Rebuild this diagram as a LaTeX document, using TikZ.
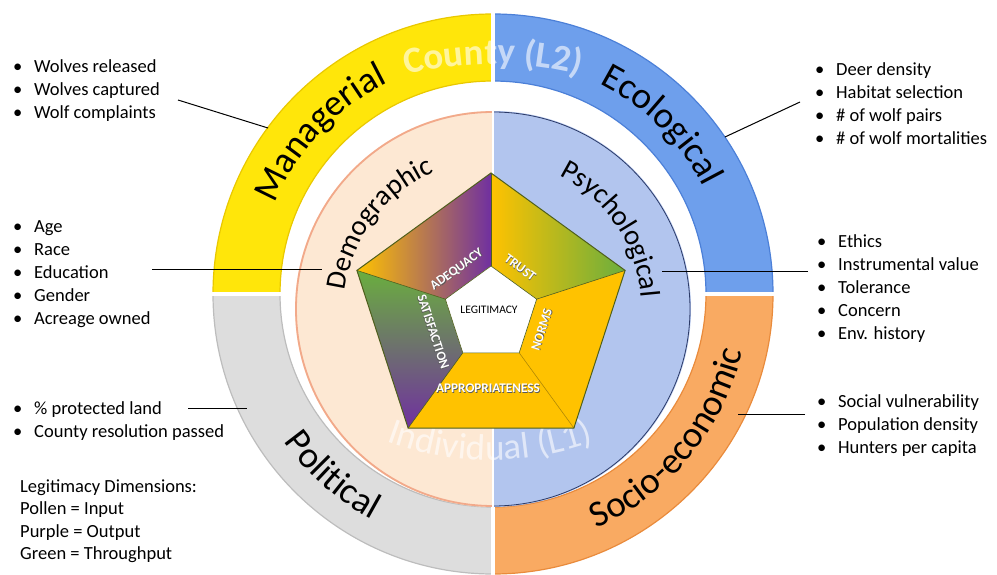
\documentclass[tikz,border=0pt]{standalone}
\usepackage{fontspec}
\setmainfont{Carlito}
\usetikzlibrary{calc,decorations.text,positioning}
\definecolor{mgyellow}{HTML}{FFE60A}
\definecolor{mgedge}{HTML}{E9C800}
\definecolor{ecoblue}{HTML}{6E9FEC}
\definecolor{ecoedge}{HTML}{4C80D8}
\definecolor{socorange}{HTML}{F9AA62}
\definecolor{socedge}{HTML}{E98B3C}
\definecolor{polgray}{HTML}{DDDDDD}
\definecolor{poledge}{HTML}{BDBDBD}
\definecolor{demopeach}{HTML}{FDE8D3}
\definecolor{demoedge}{HTML}{F2A98A}
\definecolor{psyblue}{HTML}{B2C5EE}
\definecolor{psyedge}{HTML}{2B3A67}
\definecolor{pgold}{HTML}{FFC200}
\definecolor{ppurple}{HTML}{7030A0}
\definecolor{pgreen}{HTML}{6AAE3E}
\definecolor{pentedge}{HTML}{4F5F1C}
\newcommand{\ringfont}{\fontsize{37}{37}\selectfont}
\newcommand{\discfont}{\fontsize{28.5}{28.5}\selectfont}
\newcommand{\levelfont}{\fontsize{37}{37}\selectfont}
\newcommand{\shlabel}[1]{\makebox[0pt][l]{\hspace{0.7pt}\raisebox{-0.7pt}{\textcolor{black!65}{#1}}}\textcolor{white}{#1}}
\tikzset{
  item/.style={anchor=base west, inner sep=0pt, font=\fontsize{18.5}{22}\selectfont,
    execute at begin node={\makebox[21pt][l]{\textbullet}}},
  plain/.style={anchor=base west, inner sep=0pt, font=\fontsize{18.5}{22}\selectfont},
  conn/.style={draw=black, line width=1pt},
  ringtext/.style 2 args={decorate, decoration={text along path, text align=center, text color=#1, text={#2}}},
  seglabel/.style={font=\bfseries\fontsize{13.2}{13.2}\selectfont, inner sep=0pt},
}
\begin{document}
\begin{tikzpicture}[x=1pt,y=1pt]
\useasboundingbox (0,0) rectangle (997,574);
\coordinate (oc) at (493,280); % outer ring centre
\coordinate (ic) at (493,265); % inner disc centre
\coordinate (pc) at (491,260); % pentagon centre

% outer ring, one quarter per dimension
\foreach \a/\f/\d in {0/ecoblue/ecoedge,90/mgyellow/mgedge,180/polgray/poledge,270/socorange/socedge}
  \filldraw[fill=\f, draw=\d, line width=1.2pt]
    ($(oc)+(\a:280)$) arc[start angle=\a, delta angle=90, radius=280]
    -- ($(oc)+(\a+90:213)$) arc[start angle=\a+90, delta angle=-90, radius=213] -- cycle;
\draw[white, line width=4pt] ($(oc)+(0,283)$) -- ($(oc)+(0,-283)$);
\draw[white, line width=4pt] ($(oc)+(-283,0)$) -- ($(oc)+(283,0)$);

% inner disc
\fill[demopeach] ($(ic)+(90:198)$) arc[start angle=90, end angle=270, radius=198] -- cycle;
\fill[psyblue] ($(ic)+(-90:198)$) arc[start angle=-90, end angle=90, radius=198] -- cycle;
\draw[demoedge, line width=1.8pt] ($(ic)+(90:197)$) arc[start angle=90, end angle=270, radius=197];
\draw[psyedge, line width=0.8pt] ($(ic)+(-90:197)$) arc[start angle=-90, end angle=90, radius=197];
\draw[white, line width=1.5pt] ($(ic)+(0,198)$) -- ($(ic)+(0,-198)$);

% level names
\begin{scope}[opacity=0.6]
  \path[ringtext={white}{|\levelfont\bfseries|County (L2)}]
    ($(493,160)+(125:350)$) arc[start angle=125, end angle=55, radius=350];
  \path[ringtext={white}{|\levelfont|Individual (L1)}]
    ($(490,414)+(240:300)$) arc[start angle=240, end angle=300, radius=300];
\end{scope}

% dimension names on the rings
\path[ringtext={black}{|\ringfont|Managerial}]
  ($(oc)+(180:236)$) arc[start angle=180, end angle=94, radius=236];
\path[ringtext={black}{|\ringfont|Ecological}]
  ($(oc)+(88:236)$) arc[start angle=88, end angle=2, radius=236];
\path[ringtext={black}{|\ringfont|Socio-economic}]
  ($(oc)+(-84:256)$) arc[start angle=-84, end angle=5, radius=256];
\path[ringtext={black}{|\ringfont|Political}]
  ($(oc)+(184:256)$) arc[start angle=184, end angle=273, radius=256];
\path[ringtext={black}{|\discfont|Demographic}]
  ($(ic)+(190:149)$) arc[start angle=190, end angle=96, radius=149];
\path[ringtext={black}{|\discfont|Psychological}]
  ($(ic)+(80:149)$) arc[start angle=80, end angle=-12, radius=149];

% legitimacy pentagon
\foreach \k in {1,...,5} {
  \coordinate (o\k) at ($(pc)+(18+72*\k:141)$);
  \coordinate (i\k) at ($(pc)+(18+72*\k:48)$);
}
\shade[left color=pgold, middle color=pgold, right color=ppurple] (o2) -- (o1) -- (i1) -- (i2) -- cycle;
\shade[left color=pgold, middle color=pgreen, right color=pgreen] (o1) -- (o5) -- (i5) -- (i1) -- cycle;
\fill[pgold] (o5) -- (o4) -- (i4) -- (i5) -- cycle;
\fill[pgold] (o4) -- (o3) -- (i3) -- (i4) -- cycle;
\shade[top color=pgreen, middle color=pgreen!60!ppurple, bottom color=ppurple] (o3) -- (o2) -- (i2) -- (i3) -- cycle;
\foreach \k in {1,2,3,5}
  \draw[pentedge, line width=0.6pt] (i\k) -- (o\k);
\draw[pgold!70!black, line width=0.6pt] (i4) -- (o4);
\filldraw[fill=white, draw=pentedge, line width=0.6pt] (i1) -- (i2) -- (i3) -- (i4) -- (i5) -- cycle;
\draw[pentedge, line width=1pt] (o1) -- (o2) -- (o3) -- (o4) -- (o5) -- cycle;

\node[seglabel, rotate=36] (adq) at (457,304) {\shlabel{ADEQUACY}};
\node[seglabel, rotate=-36] (tru) at (520,306) {\shlabel{TRUST}};
\node[seglabel, rotate=72] (nor) at (542,244) {\shlabel{NORMS}};
\node[seglabel, rotate=-72] (sat) at (433,242) {\shlabel{SATISFACTION}};
\node[seglabel] (app) at (488,185) {\shlabel{APPROPRIATENESS}};
\node[font=\fontsize{11.5}{11.5}\selectfont, inner sep=0pt] (leg) at (489,264) {LEGITIMACY};

% indicator lists
\foreach \t [count=\i from 0] in {Wolves released,Wolves captured,Wolf complaints}
  \node[item] (mg\i) at (13,501-23*\i) {\t};
\foreach \t [count=\i from 0] in {Age,Race,Education,Gender,Acreage owned}
  \node[item] (dm\i) at (13,341-23*\i) {\t};
\foreach \t [count=\i from 0] in {\% protected land,County resolution passed}
  \node[item] (pl\i) at (13,160-23*\i) {\t};
\foreach \t [count=\i from 0] in {Legitimacy Dimensions:,Pollen = Input,Purple = Output,Green = Throughput}
  \node[plain] (ld\i) at (20,82-22.5*\i) {\t};
\foreach \t [count=\i from 0] in {Deer density,Habitat selection,\# of wolf pairs,\# of wolf mortalities}
  \node[item] (ec\i) at (815,498-23*\i) {\t};
\foreach \t [count=\i from 0] in {Ethics,Instrumental value,Tolerance,Concern,Env. history}
  \node[item] (ps\i) at (817,326-23*\i) {\t};
\foreach \t [count=\i from 0] in {Social vulnerability,Population density,Hunters per capita}
  \node[item] (so\i) at (817,167-23*\i) {\t};

% connectors
\coordinate (mgFrom) at (178,474);  \coordinate (mgTo) at (268,446);
\coordinate (dmFrom) at (152,304);  \coordinate (dmTo) at (322,304);
\coordinate (plFrom) at (188,166);  \coordinate (plTo) at (247,166);
\coordinate (ecFrom) at (800,472);  \coordinate (ecTo) at (725,437);
\coordinate (psFrom) at (808,302);  \coordinate (psTo) at (662,302);
\coordinate (soFrom) at (805,160);  \coordinate (soTo) at (738,160);
\foreach \n in {mg,dm,pl,ec,ps,so}
  \draw[conn] (\n From) -- (\n To);
\end{tikzpicture}
\end{document}
